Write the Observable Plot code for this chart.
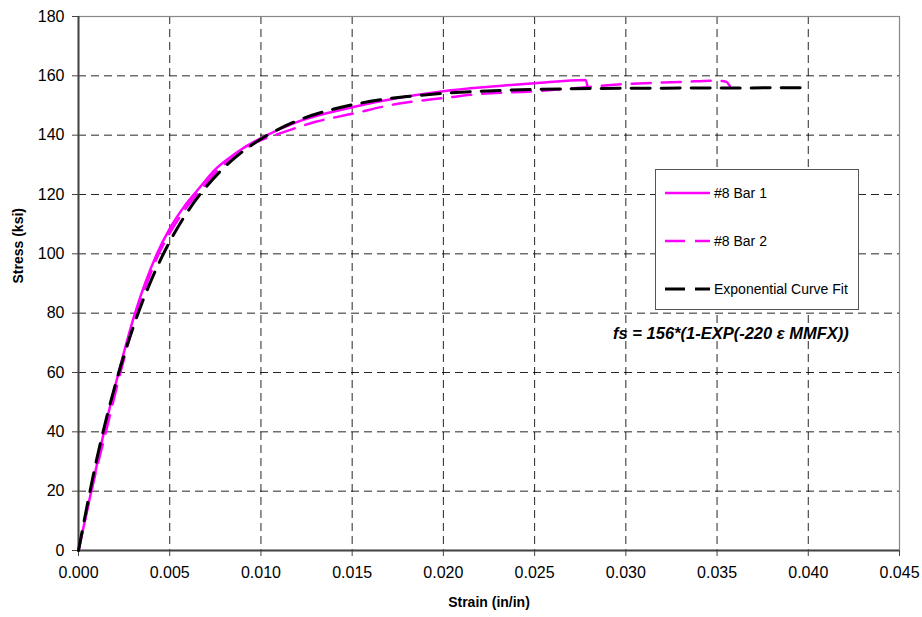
<!DOCTYPE html>
<html>
<head>
<meta charset="utf-8">
<script src="https://cdn.jsdelivr.net/npm/d3@7"></script>
<script src="https://cdn.jsdelivr.net/npm/@observablehq/plot@0.6"></script>
<style>
  html, body { margin: 0; padding: 0; background: white; }
  #wrap { position: relative; width: 922px; height: 617px; font-family: "Liberation Sans", Arial, sans-serif; }
  #legend { position: absolute; left: 655px; top: 169px; width: 204px; height: 141px; background: white; border: 1.5px solid #555; box-sizing: border-box; }
  .item { position: absolute; left: 9px; height: 20px; display: flex; align-items: center; font-size: 14px; color: #000; }
  .item svg { margin-right: 3px; }
</style>
</head>
<body>
<div id="wrap">
  <div id="chart"></div>
  <div id="legend"></div>
</div>
<script>
// Strain (in/in) and stress (ksi)
const bar1Strain = [0, 0.0007, 0.0014, 0.0022, 0.0031, 0.0043, 0.0050, 0.0058, 0.0066, 0.0075, 0.0083, 0.009, 0.010, 0.012, 0.015, 0.0175, 0.020, 0.0225, 0.025, 0.0278, 0.0279];
const bar1Stress = [0, 20, 40, 60, 80, 100, 108.5, 116, 122, 128.5, 132.5, 135.5, 139, 144.5, 149.4, 152.5, 154.8, 156.3, 157.5, 158.6, 156.3];

const bar2Strain = [0, 0.0007, 0.0015, 0.0023, 0.0032, 0.0044, 0.0051, 0.0059, 0.0067, 0.0076, 0.0084, 0.009, 0.010, 0.011, 0.013, 0.015, 0.0175, 0.020, 0.022, 0.025, 0.0275, 0.0296, 0.0332, 0.0349, 0.0355, 0.0357];
const bar2Stress = [0, 20, 40, 60, 80, 100, 108, 115.5, 121.5, 128, 132, 134.8, 138.3, 140.5, 144.5, 147.2, 150.6, 152.5, 153.9, 154.8, 156, 157.1, 158, 158.4, 158, 156.5];

const fitStrain = [0, 0.001, 0.002, 0.003, 0.004, 0.005, 0.006, 0.007, 0.008, 0.009, 0.010, 0.012, 0.014, 0.016, 0.018, 0.020, 0.025, 0.030, 0.035, 0.040];
const fitStress = [0, 30.8, 55.5, 75.3, 91.3, 104.1, 114.4, 122.6, 129.2, 134.5, 138.7, 144.9, 148.8, 151.4, 153.0, 154.1, 155.4, 155.8, 155.9, 156.0];

const xTicks = [0, 0.005, 0.010, 0.015, 0.020, 0.025, 0.030, 0.035, 0.040, 0.045];
const yTicks = [0, 20, 40, 60, 80, 100, 120, 140, 160, 180];
const xGrid = [0.005, 0.010, 0.015, 0.020, 0.025, 0.030, 0.035, 0.040];
const yGrid = [20, 40, 60, 80, 100, 120, 140, 160];

const seriesNames = ["#8 Bar 1", "#8 Bar 2", "Exponential Curve Fit"];
const equationText = ["fs = 156*(1-EXP(-220 \u03B5 MMFX))"];
const equationPos = [{x: 0.0293, y: 73}];
const xLabel = "Strain (in/in)";
const yLabel = "Stress (ksi)";

const toRows = (xs, ys) => xs.map((x, i) => ({x, y: ys[i]}));
const bar1 = toRows(bar1Strain, bar1Stress);
const bar2 = toRows(bar2Strain, bar2Stress);
const fit = toRows(fitStrain, fitStress);

const chart = Plot.plot({
  width: 922,
  height: 617,
  marginLeft: 78,
  marginRight: 23,
  marginTop: 16,
  marginBottom: 67,
  style: {fontFamily: "Liberation Sans, Arial, sans-serif", background: "white", color: "#000"},
  x: {domain: [0, 0.045]},
  y: {domain: [0, 180]},
  marks: [
    Plot.gridX(xGrid, {stroke: "#000", strokeOpacity: 0.85, strokeWidth: 1, strokeDasharray: "8,5"}),
    Plot.gridY(yGrid, {stroke: "#000", strokeOpacity: 0.85, strokeWidth: 1, strokeDasharray: "8,5"}),
    Plot.frame({stroke: "#888", strokeWidth: 1.2}),
    Plot.ruleX([0], {stroke: "#444", strokeWidth: 2}),
    Plot.ruleY([0], {stroke: "#444", strokeWidth: 2}),
    Plot.axisX({ticks: xTicks, tickFormat: d3.format(".3f"), tickSize: 6, tickPadding: 10, fontSize: 16, label: null, stroke: "#444"}),
    Plot.axisY({ticks: yTicks, tickSize: 6, tickPadding: 8, fontSize: 16, label: null, stroke: "#444"}),
    Plot.line(bar2, {x: "x", y: "y", stroke: "#ff00ff", strokeWidth: 2.5, strokeDasharray: "19,11", curve: "monotone-x"}),
    Plot.line(bar1, {x: "x", y: "y", stroke: "#ff00ff", strokeWidth: 2.5, curve: "monotone-x"}),
    Plot.line(fit, {x: "x", y: "y", stroke: "#000", strokeWidth: 3, strokeDasharray: "19,11", curve: "monotone-x"}),
    Plot.text(equationText, {x: () => equationPos[0].x, y: () => equationPos[0].y, text: d => d, textAnchor: "start", fontSize: 16.5, fontWeight: "bold", fontStyle: "italic", fill: "#000"}),
    Plot.text([xLabel], {frameAnchor: "bottom", dy: 56, text: d => d, fontSize: 14, fontWeight: "bold", fill: "#000"}),
    Plot.text([yLabel], {frameAnchor: "left", dx: -60, rotate: -90, text: d => d, fontSize: 14, fontWeight: "bold", fill: "#000"})
  ]
});
document.getElementById("chart").appendChild(chart);

// Legend
const legendStyles = [
  {stroke: "#ff00ff", width: 2.5, dash: null},
  {stroke: "#ff00ff", width: 2.5, dash: "20,10"},
  {stroke: "#000", width: 3, dash: "20,10"}
];
const legendTops = [13, 61, 109];
const legend = d3.select("#legend");
seriesNames.forEach((name, i) => {
  const item = legend.append("div").attr("class", "item").style("top", legendTops[i] + "px");
  const s = item.append("svg").attr("width", 46).attr("height", 20);
  const st = legendStyles[i];
  s.append("line").attr("x1", 0).attr("x2", 45).attr("y1", 10).attr("y2", 10)
    .attr("stroke", st.stroke).attr("stroke-width", st.width)
    .attr("stroke-dasharray", st.dash);
  item.append("span").text(name);
});
</script>
</body>
</html>
